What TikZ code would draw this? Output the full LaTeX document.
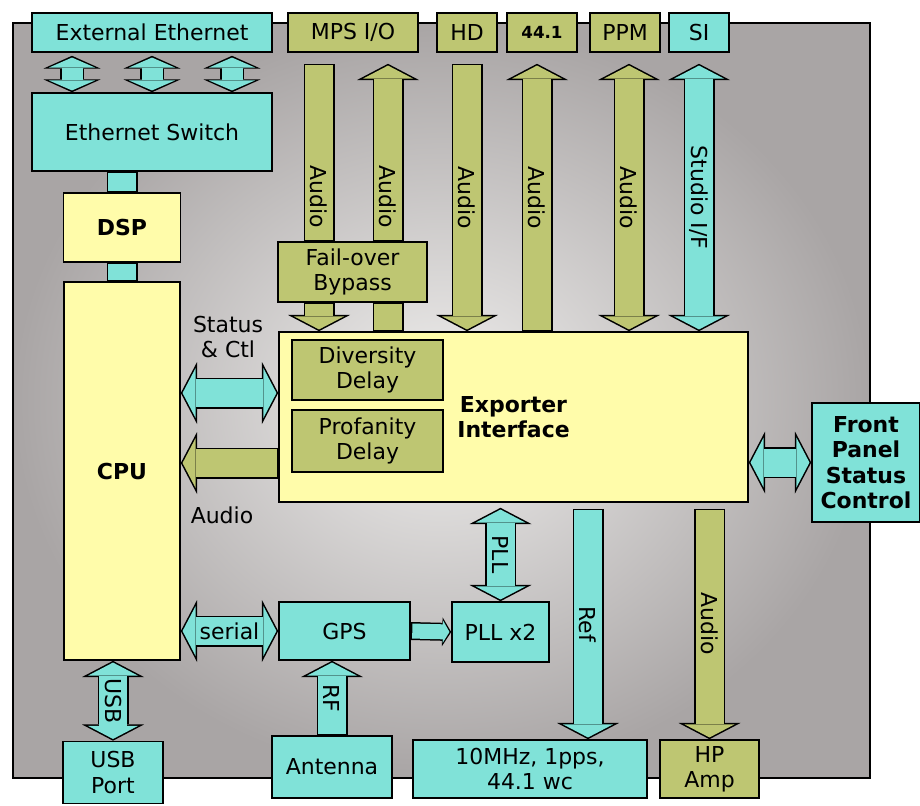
\documentclass[tikz,border=0pt]{standalone}
\usepackage{fontspec}
\setmainfont{DejaVu Sans}
\usetikzlibrary{arrows.meta}
\definecolor{ccyan}  {HTML}{80E2D8}
\definecolor{cgreen} {HTML}{BEC672}
\definecolor{cyellow}{HTML}{FFFCAA}
\definecolor{cpanel} {HTML}{A9A5A5}
\definecolor{clight} {HTML}{F0EFEE}
\pgfdeclarelayer{back}
\pgfdeclarelayer{links}
\pgfsetlayers{back,links,main}

\begin{document}
\begin{tikzpicture}[
  box/.style  = {draw=black, line width=0.9pt, inner sep=1pt, align=center,
                 font=\fontsize{12.5}{14.5}\selectfont},
  cbox/.style = {box, fill=ccyan},
  gbox/.style = {box, fill=cgreen},
  ybox/.style = {box, fill=cyellow, font=\fontsize{12.5}{14.5}\selectfont\bfseries},
  lbl/.style  = {font=\fontsize{12.5}{14.5}\selectfont, inner sep=0pt, align=center},
  tlbl/.style = {lbl, rotate=-90},
  fatbar/.style  = {line width=0.56cm, shorten <=0.03cm, shorten >=0.03cm,
                    preaction={draw=black, line width=0.62cm, shorten <=0pt, shorten >=0pt}},
  fatone/.style  = {-{Triangle[width=1.0cm, length=0.262cm, line width=0pt]},
                    line width=0.56cm, shorten <=0.03cm, shorten >=0.035cm,
                    preaction={draw=black, -{Triangle[width=1.24cm, length=0.325cm, line width=0pt]},
                               line width=0.62cm, shorten <=0pt, shorten >=0pt}},
  fatboth/.style = {{Triangle[width=1.0cm, length=0.262cm, line width=0pt]}-{Triangle[width=1.0cm, length=0.262cm, line width=0pt]},
                    line width=0.56cm, shorten <=0.035cm, shorten >=0.035cm,
                    preaction={draw=black, {Triangle[width=1.24cm, length=0.325cm, line width=0pt]}-{Triangle[width=1.24cm, length=0.325cm, line width=0pt]},
                               line width=0.62cm, shorten <=0pt, shorten >=0pt}},
  ethboth/.style = {{Triangle[width=0.92cm, length=0.2cm, line width=0pt]}-{Triangle[width=0.92cm, length=0.2cm, line width=0pt]},
                    line width=0.42cm, shorten <=0.035cm, shorten >=0.035cm,
                    preaction={draw=black, {Triangle[width=1.14cm, length=0.255cm, line width=0pt]}-{Triangle[width=1.14cm, length=0.255cm, line width=0pt]},
                               line width=0.48cm, shorten <=0pt, shorten >=0pt}},
  smallone/.style = {-{Triangle[width=0.44cm, length=0.13cm, line width=0pt]},
                    line width=0.30cm, shorten <=0.03cm, shorten >=0.035cm,
                    preaction={draw=black, -{Triangle[width=0.58cm, length=0.18cm, line width=0pt]},
                               line width=0.36cm, shorten <=0pt, shorten >=0pt}}
]
\useasboundingbox (0,0) rectangle (18.4,-16.1);

%% -- Panel --------------------------------------------------------------
\begin{pgfonlayer}{back}
\shade[inner color=clight, outer color=cpanel] (0.26,-0.46) rectangle (17.40,-15.56);
\draw[line width=0.9pt] (0.26,-0.46) rectangle (17.40,-15.56);
\end{pgfonlayer}

%% -- Top row ------------------------------------------------------------
\node[cbox, minimum width=4.80cm, minimum height=0.78cm] (ext)  at (3.04, -0.65) {External Ethernet};
\node[gbox, minimum width=2.60cm, minimum height=0.78cm] (mps)  at (7.06, -0.65) {MPS I/O};
\node[gbox, minimum width=1.20cm, minimum height=0.78cm] (hd)   at (9.34, -0.65) {HD};
\node[gbox, minimum width=1.40cm, minimum height=0.78cm,
      font=\fontsize{9.5}{11}\selectfont\bfseries]       (f441) at (10.84, -0.65) {44.1};
\node[gbox, minimum width=1.40cm, minimum height=0.78cm] (ppm)  at (12.50, -0.65) {PPM};
\node[cbox, minimum width=1.20cm, minimum height=0.78cm] (si)   at (13.98, -0.65) {SI};

%% -- Left column --------------------------------------------------------
\node[cbox, minimum width=4.80cm, minimum height=1.56cm] (sw)   at (3.04, -2.64) {Ethernet Switch};
\node[ybox, minimum width=2.34cm, minimum height=1.38cm] (dsp)  at (2.44, -4.55) {DSP};
\node[ybox, minimum width=2.32cm, minimum height=7.56cm] (cpu)  at (2.44, -9.42) {CPU};
\node[cbox, minimum width=2.00cm, minimum height=1.24cm] (usb)  at (2.26, -15.45) {USB\\Port};

%% -- Middle -------------------------------------------------------------
\node[gbox, minimum width=2.98cm, minimum height=1.20cm] (fob)  at (7.05, -5.44) {Fail-over\\Bypass};
\node[ybox, minimum width=9.38cm, minimum height=3.40cm] (exp)  at (10.27, -8.34) {Exporter\\Interface};
\node[gbox, minimum width=3.02cm, minimum height=1.20cm] (div)  at (7.35, -7.40) {Diversity\\Delay};
\node[gbox, minimum width=3.02cm, minimum height=1.24cm] (prof) at (7.35, -8.82) {Profanity\\Delay};
\node[cbox, minimum width=2.16cm, minimum height=2.38cm,
      font=\fontsize{12.5}{14.5}\selectfont\bfseries]    (fp)   at (17.32, -9.25) {Front\\Panel\\Status\\Control};

%% -- Bottom -------------------------------------------------------------
\node[cbox, minimum width=2.62cm, minimum height=1.16cm] (gps)  at (6.89, -12.62) {GPS};
\node[cbox, minimum width=1.94cm, minimum height=1.20cm] (pll)  at (10.01, -12.64) {PLL x2};
\node[cbox, minimum width=2.40cm, minimum height=1.24cm] (ant)  at (6.64, -15.34) {Antenna};
\node[cbox, minimum width=4.68cm, minimum height=1.16cm] (ref)  at (10.60, -15.38) {10MHz, 1pps,\\44.1 wc};
\node[gbox, minimum width=1.98cm, minimum height=1.16cm] (hp)   at (14.19, -15.38) {HP\\Amp};

%% -- Free labels --------------------------------------------------------
\node[lbl] (stlbl) at (4.56, -6.74)  {Status\\\& Ctl};
\node[lbl] (aulbl) at (4.44, -10.30) {Audio};

%% -- Connectors ---------------------------------------------------------
\begin{pgfonlayer}{links}
% Ethernet ports
\draw[ethboth, draw=ccyan] ([xshift=-1.6cm, yshift=-0.06cm]ext.south) -- ([xshift=-1.6cm]sw.north);
\draw[ethboth, draw=ccyan] ([yshift=-0.06cm]ext.south)                -- (sw.north);
\draw[ethboth, draw=ccyan] ([xshift=1.6cm, yshift=-0.06cm]ext.south)  -- ([xshift=1.6cm]sw.north);

% Switch -> DSP -> CPU
\draw[fatbar, draw=ccyan] (dsp.north |- sw.south) -- (dsp.north);
\draw[fatbar, draw=ccyan] (dsp.south) -- (cpu.north);

% MPS I/O through the fail-over bypass
\coordinate (mpsl) at ([xshift=-0.68cm, yshift=-0.22cm]mps.south);
\coordinate (mpsr) at ([xshift=0.70cm, yshift=-0.22cm]mps.south);
\draw[fatbar, draw=cgreen] (mpsl) -- (mpsl |- fob.north) node[tlbl, pos=0.75] {Audio};
\draw[fatone, draw=cgreen] (mpsl |- fob.south) -- (mpsl |- exp.north);
\draw[fatone, draw=cgreen] (mpsr |- fob.north) -- (mpsr) node[tlbl, pos=0.25] {Audio};
\draw[fatbar, draw=cgreen] (mpsr |- fob.south) -- (mpsr |- exp.north);

% HD, 44.1, PPM, SI
\coordinate (hdtop)   at ([yshift=-0.22cm]hd.south);
\coordinate (f441top) at ([xshift=-0.10cm, yshift=-0.22cm]f441.south);
\coordinate (ppmtop)  at ([xshift=0.08cm, yshift=-0.22cm]ppm.south);
\coordinate (sitop)   at ([yshift=-0.22cm]si.south);
\draw[fatone,  draw=cgreen] (hdtop) -- (hdtop |- exp.north) node[tlbl, midway] {Audio};
\draw[fatone,  draw=cgreen] (f441top |- exp.north) -- (f441top) node[tlbl, midway] {Audio};
\draw[fatboth, draw=cgreen] (ppmtop) -- (ppmtop |- exp.north) node[tlbl, midway] {Audio};
\draw[fatboth, draw=ccyan]  (sitop) -- (sitop |- exp.north) node[tlbl, midway] {Studio I/F};

% CPU <-> Exporter, Exporter <-> Front panel
\coordinate (stc) at ([yshift=0.48cm]exp.west);
\coordinate (aud) at ([yshift=-0.92cm]exp.west);
\draw[fatboth, draw=ccyan]  (cpu.east |- stc) -- (stc);
\draw[fatone,  draw=cgreen] (aud) -- (cpu.east |- aud);
\draw[fatboth, draw=ccyan]  (exp.east |- fp.west) -- (fp.west);

% Exporter -> PLL, Ref, HP amp
\coordinate (pllt) at (pll.north |- exp.south);
\coordinate (reft) at ([xshift=1.16cm]ref.north);
\coordinate (refs) at (reft |- exp.south);
\coordinate (hps)  at (hp.north |- exp.south);
\draw[fatboth, draw=ccyan]  ([yshift=-0.1cm]pllt) -- (pll.north) node[tlbl, midway] {PLL};
\draw[fatone,  draw=ccyan]  ([yshift=-0.12cm]refs) -- (reft) node[tlbl, midway] {Ref};
\draw[fatone,  draw=cgreen] ([yshift=-0.12cm]hps) -- (hp.north) node[tlbl, midway] {Audio};

% GPS, antenna, USB
\draw[fatboth,  draw=ccyan] (cpu.east |- gps.west) -- (gps.west) node[lbl, midway] {serial};
\draw[smallone, draw=ccyan] (gps.east) -- (pll.west);
\draw[fatone,   draw=ccyan] (ant.north) -- (ant.north |- gps.south) node[tlbl, midway] {RF};
\draw[fatboth,  draw=ccyan] (usb.north |- cpu.south) -- (usb.north) node[tlbl, midway] {USB};
\end{pgfonlayer}

\end{tikzpicture}
\end{document}
